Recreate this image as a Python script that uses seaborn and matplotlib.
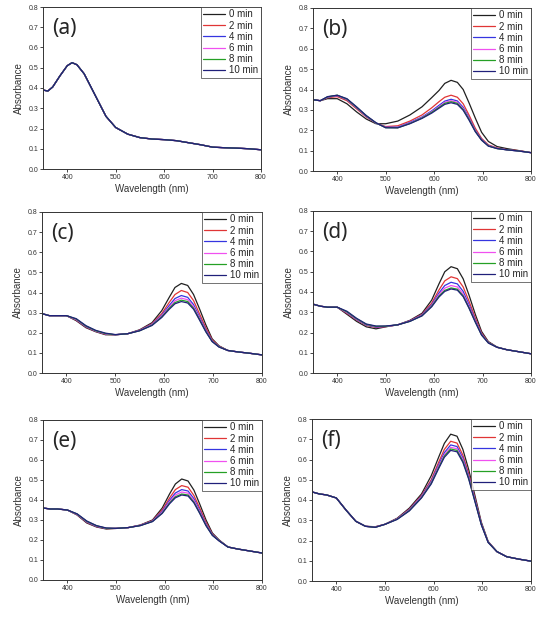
import numpy as np
import pandas as pd
import seaborn as sns
import matplotlib.pyplot as plt

# %% comprimentos de onda (nm)
wl_a = [350, 360, 370, 385, 400, 410, 420, 435, 450, 465, 480, 500,
        525, 550, 575, 600, 625, 650, 675, 700, 725, 750, 775, 800]
wl = [350, 365, 380, 400, 420, 440, 460, 480, 500, 525, 550, 575, 595,
      610, 622, 635, 648, 660, 672, 685, 698, 712, 730, 750, 775, 800]

tempos = ['0 min', '2 min', '4 min', '6 min', '8 min', '10 min']
cores = ['#202020', '#e03535', '#3535e0', '#f050f0', '#25a025', '#20207a']

# %% (a) todas as curvas se sobrepõem
a_all = [0.390, 0.385, 0.405, 0.460, 0.510, 0.525, 0.515, 0.470, 0.400, 0.330, 0.260, 0.205,
         0.172, 0.155, 0.148, 0.145, 0.140, 0.130, 0.120, 0.108, 0.105, 0.103, 0.100, 0.095]

# %% (b)
b_0 = [0.350, 0.345, 0.355, 0.355, 0.330, 0.290, 0.255, 0.232, 0.232, 0.245, 0.275, 0.315, 0.360,
       0.395, 0.430, 0.445, 0.435, 0.400, 0.335, 0.260, 0.190, 0.145, 0.120, 0.110, 0.100, 0.090]
b_2 = [0.350, 0.345, 0.360, 0.365, 0.345, 0.305, 0.265, 0.235, 0.218, 0.222, 0.245, 0.275, 0.310,
       0.340, 0.362, 0.372, 0.362, 0.330, 0.275, 0.210, 0.160, 0.128, 0.113, 0.105, 0.100, 0.090]
b_4 = [0.350, 0.345, 0.362, 0.370, 0.350, 0.310, 0.268, 0.235, 0.215, 0.215, 0.238, 0.265, 0.295,
       0.322, 0.343, 0.352, 0.344, 0.313, 0.262, 0.200, 0.155, 0.125, 0.111, 0.104, 0.098, 0.090]
b_6 = [0.350, 0.345, 0.363, 0.371, 0.352, 0.312, 0.270, 0.236, 0.214, 0.213, 0.235, 0.262, 0.291,
       0.316, 0.337, 0.345, 0.337, 0.307, 0.257, 0.197, 0.153, 0.124, 0.111, 0.104, 0.098, 0.090]
b_8 = [0.350, 0.345, 0.364, 0.372, 0.353, 0.313, 0.271, 0.236, 0.213, 0.212, 0.233, 0.260, 0.288,
       0.312, 0.332, 0.340, 0.332, 0.302, 0.254, 0.195, 0.152, 0.123, 0.110, 0.104, 0.098, 0.090]
b_10 = [0.350, 0.345, 0.365, 0.372, 0.355, 0.315, 0.272, 0.237, 0.212, 0.212, 0.232, 0.258, 0.284,
        0.308, 0.327, 0.335, 0.327, 0.298, 0.250, 0.193, 0.151, 0.122, 0.110, 0.104, 0.098, 0.090]

# %% (c)
c_0 = [0.295, 0.285, 0.285, 0.285, 0.260, 0.225, 0.205, 0.190, 0.190, 0.195, 0.215, 0.250, 0.310,
       0.375, 0.425, 0.445, 0.435, 0.390, 0.320, 0.240, 0.170, 0.135, 0.112, 0.105, 0.098, 0.090]
c_2 = [0.295, 0.285, 0.285, 0.285, 0.263, 0.228, 0.207, 0.192, 0.190, 0.195, 0.213, 0.245, 0.295,
       0.350, 0.390, 0.410, 0.400, 0.360, 0.295, 0.225, 0.165, 0.133, 0.112, 0.105, 0.098, 0.090]
c_4 = [0.295, 0.285, 0.285, 0.285, 0.265, 0.230, 0.208, 0.194, 0.190, 0.195, 0.212, 0.242, 0.287,
       0.335, 0.370, 0.385, 0.376, 0.340, 0.280, 0.215, 0.160, 0.131, 0.112, 0.105, 0.098, 0.090]
c_6 = [0.295, 0.285, 0.285, 0.285, 0.266, 0.232, 0.209, 0.195, 0.190, 0.195, 0.211, 0.240, 0.283,
       0.327, 0.359, 0.372, 0.364, 0.330, 0.273, 0.210, 0.158, 0.130, 0.112, 0.105, 0.098, 0.090]
c_8 = [0.295, 0.285, 0.285, 0.285, 0.268, 0.233, 0.210, 0.196, 0.190, 0.195, 0.210, 0.238, 0.279,
       0.321, 0.350, 0.362, 0.355, 0.322, 0.268, 0.207, 0.157, 0.130, 0.112, 0.105, 0.098, 0.090]
c_10 = [0.295, 0.285, 0.285, 0.285, 0.270, 0.235, 0.212, 0.198, 0.191, 0.195, 0.210, 0.236, 0.276,
        0.316, 0.344, 0.355, 0.348, 0.317, 0.264, 0.205, 0.156, 0.129, 0.112, 0.105, 0.098, 0.090]

# %% (d)
d_0 = [0.340, 0.330, 0.325, 0.325, 0.290, 0.255, 0.228, 0.218, 0.228, 0.238, 0.260, 0.295, 0.360,
       0.440, 0.500, 0.525, 0.515, 0.465, 0.385, 0.290, 0.205, 0.155, 0.128, 0.115, 0.105, 0.095]
d_2 = [0.340, 0.330, 0.325, 0.325, 0.295, 0.262, 0.235, 0.225, 0.229, 0.238, 0.258, 0.290, 0.345,
       0.410, 0.455, 0.475, 0.466, 0.425, 0.355, 0.272, 0.197, 0.152, 0.127, 0.115, 0.105, 0.095]
d_4 = [0.340, 0.330, 0.325, 0.325, 0.298, 0.264, 0.237, 0.227, 0.230, 0.238, 0.257, 0.287, 0.337,
       0.395, 0.432, 0.448, 0.440, 0.403, 0.338, 0.262, 0.192, 0.150, 0.127, 0.115, 0.105, 0.095]
d_6 = [0.340, 0.330, 0.325, 0.325, 0.300, 0.266, 0.239, 0.229, 0.230, 0.238, 0.256, 0.285, 0.333,
       0.387, 0.419, 0.432, 0.425, 0.390, 0.329, 0.257, 0.190, 0.149, 0.127, 0.115, 0.105, 0.095]
d_8 = [0.340, 0.330, 0.325, 0.325, 0.302, 0.268, 0.240, 0.230, 0.231, 0.238, 0.255, 0.283, 0.330,
       0.380, 0.408, 0.420, 0.414, 0.381, 0.323, 0.253, 0.188, 0.149, 0.127, 0.115, 0.105, 0.095]
d_10 = [0.340, 0.330, 0.325, 0.325, 0.305, 0.270, 0.242, 0.232, 0.232, 0.238, 0.255, 0.282, 0.327,
        0.375, 0.403, 0.415, 0.409, 0.377, 0.320, 0.251, 0.187, 0.148, 0.127, 0.115, 0.105, 0.095]

# %% (e)
e_0 = [0.360, 0.355, 0.355, 0.350, 0.325, 0.285, 0.265, 0.255, 0.258, 0.262, 0.275, 0.300, 0.360,
       0.430, 0.480, 0.505, 0.495, 0.450, 0.380, 0.300, 0.235, 0.200, 0.165, 0.155, 0.145, 0.135]
e_2 = [0.360, 0.355, 0.355, 0.350, 0.327, 0.288, 0.267, 0.257, 0.258, 0.262, 0.274, 0.297, 0.350,
       0.410, 0.452, 0.472, 0.464, 0.423, 0.360, 0.288, 0.230, 0.198, 0.165, 0.155, 0.145, 0.135]
e_4 = [0.360, 0.355, 0.355, 0.350, 0.328, 0.290, 0.268, 0.258, 0.258, 0.262, 0.273, 0.295, 0.343,
       0.398, 0.435, 0.452, 0.445, 0.407, 0.348, 0.280, 0.227, 0.197, 0.165, 0.155, 0.145, 0.135]
e_6 = [0.360, 0.355, 0.355, 0.350, 0.329, 0.292, 0.270, 0.259, 0.258, 0.262, 0.273, 0.294, 0.339,
       0.391, 0.425, 0.440, 0.434, 0.398, 0.341, 0.276, 0.225, 0.196, 0.165, 0.155, 0.145, 0.135]
e_8 = [0.360, 0.355, 0.355, 0.350, 0.330, 0.293, 0.271, 0.259, 0.258, 0.262, 0.272, 0.293, 0.335,
       0.385, 0.416, 0.430, 0.425, 0.390, 0.336, 0.273, 0.224, 0.196, 0.165, 0.155, 0.145, 0.135]
e_10 = [0.360, 0.355, 0.355, 0.350, 0.331, 0.295, 0.272, 0.260, 0.258, 0.262, 0.272, 0.292, 0.333,
        0.381, 0.411, 0.425, 0.420, 0.386, 0.333, 0.271, 0.223, 0.195, 0.165, 0.155, 0.145, 0.135]

# %% (f)
f_0 = [0.440, 0.430, 0.425, 0.410, 0.350, 0.295, 0.270, 0.268, 0.280, 0.310, 0.360, 0.430, 0.520,
       0.610, 0.680, 0.725, 0.715, 0.650, 0.550, 0.420, 0.290, 0.195, 0.145, 0.120, 0.108, 0.098]
f_2 = [0.440, 0.430, 0.425, 0.410, 0.350, 0.295, 0.270, 0.267, 0.280, 0.308, 0.355, 0.422, 0.500,
       0.585, 0.650, 0.690, 0.681, 0.622, 0.530, 0.407, 0.284, 0.193, 0.145, 0.120, 0.108, 0.098]
f_4 = [0.440, 0.430, 0.425, 0.410, 0.350, 0.295, 0.270, 0.266, 0.280, 0.307, 0.352, 0.418, 0.492,
       0.572, 0.634, 0.672, 0.664, 0.608, 0.519, 0.400, 0.281, 0.192, 0.145, 0.120, 0.108, 0.098]
f_6 = [0.440, 0.430, 0.425, 0.410, 0.350, 0.295, 0.270, 0.266, 0.280, 0.306, 0.350, 0.415, 0.487,
       0.565, 0.624, 0.660, 0.653, 0.599, 0.512, 0.396, 0.279, 0.191, 0.145, 0.120, 0.108, 0.098]
f_8 = [0.440, 0.430, 0.425, 0.410, 0.350, 0.295, 0.270, 0.265, 0.280, 0.305, 0.348, 0.412, 0.483,
       0.559, 0.617, 0.652, 0.645, 0.592, 0.507, 0.393, 0.278, 0.191, 0.145, 0.120, 0.108, 0.098]
f_10 = [0.440, 0.430, 0.425, 0.410, 0.350, 0.295, 0.270, 0.265, 0.280, 0.304, 0.346, 0.410, 0.479,
        0.554, 0.611, 0.645, 0.638, 0.586, 0.503, 0.390, 0.277, 0.190, 0.145, 0.120, 0.108, 0.098]

paineis = [
    ('(a)', wl_a, [a_all] * 6),
    ('(b)', wl, [b_0, b_2, b_4, b_6, b_8, b_10]),
    ('(c)', wl, [c_0, c_2, c_4, c_6, c_8, c_10]),
    ('(d)', wl, [d_0, d_2, d_4, d_6, d_8, d_10]),
    ('(e)', wl, [e_0, e_2, e_4, e_6, e_8, e_10]),
    ('(f)', wl, [f_0, f_2, f_4, f_6, f_8, f_10]),
]

# %% posicoes dos eixos em pixels (esq, topo, dir, base)
W, H = 550, 619
caixas = [(43, 7, 261, 169), (313, 8, 531, 171),
          (42, 212, 262, 373), (313, 211, 531, 373),
          (43, 420, 262, 580), (312, 419, 531, 581)]

sns.set_theme(style='ticks')
plt.rcParams['font.family'] = ['Liberation Sans', 'DejaVu Sans']
fig = plt.figure(figsize=(W / 100, H / 100), dpi=100)

for (rotulo, x, series), (l, t, r, b) in zip(paineis, caixas):
    ax = fig.add_axes([l / W, 1 - b / H, (r - l) / W, (b - t) / H])
    linhas = []
    for tempo, y in zip(tempos, series):
        linhas.append(pd.DataFrame({'Wavelength': x, 'Absorbance': y, 'Tempo': tempo}))
    df = pd.concat(linhas, ignore_index=True)
    sns.lineplot(data=df, x='Wavelength', y='Absorbance', hue='Tempo',
                 palette=dict(zip(tempos, cores)), hue_order=tempos,
                 linewidth=0.9, ax=ax)
    ax.set_xlim(350, 800)
    ax.set_ylim(0, 0.8)
    ax.set_xticks([400, 500, 600, 700, 800])
    ax.set_yticks(np.arange(0, 0.81, 0.1))
    ax.yaxis.set_major_formatter(plt.FormatStrFormatter('%.1f'))
    ax.tick_params(labelsize=5, length=2, width=0.6, pad=1.5, labelcolor='#333333')
    ax.set_xlabel('Wavelength (nm)', fontsize=7, labelpad=2, color='#333333')
    ax.set_ylabel('Absorbance', fontsize=7, labelpad=3, color='#333333')
    for s in ax.spines.values():
        s.set_linewidth(0.7)
        s.set_color('#333333')
    ax.text(0.04, 0.93, rotulo, transform=ax.transAxes, fontsize=15,
            va='top', ha='left', family=['Noto Sans', 'DejaVu Sans'])
    leg = ax.legend(loc='upper right', fontsize=7, frameon=True, fancybox=False,
                    borderaxespad=0, handlelength=2.2, handletextpad=0.5,
                    labelspacing=0.12, borderpad=0.25, title=None)
    leg.get_frame().set_edgecolor('#333333')
    leg.get_frame().set_linewidth(0.6)

fig.savefig('out.png', dpi=100)
